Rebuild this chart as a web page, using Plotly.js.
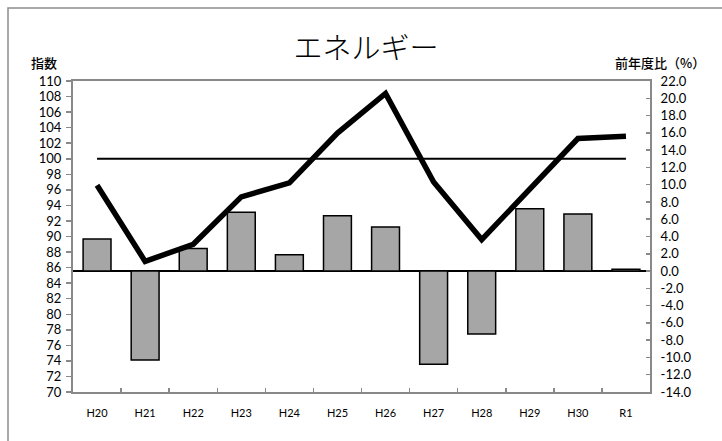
<!DOCTYPE html>
<html>
<head>
<meta charset="utf-8">
<script src="https://cdn.plot.ly/plotly-3.0.1.min.js"></script>
<style>body{margin:0;padding:0;background:#fff}#chart{width:722px;height:441px}</style>
</head>
<body>
<div id="chart"></div>
<script>
const categories = ["H20","H21","H22","H23","H24","H25","H26","H27","H28","H29","H30","R1"];
const indexValues = [96.6, 86.8, 89.0, 95.1, 96.9, 103.3, 108.4, 97.0, 89.6, 96.0, 102.6, 102.9];
const changeValues = [3.7, -10.3, 2.6, 6.8, 1.9, 6.4, 5.1, -10.8, -7.3, 7.2, 6.6, 0.2];
const baseValue = [100,100,100,100,100,100,100,100,100,100,100,100];
const leftTicks = [70,72,74,76,78,80,82,84,86,88,90,92,94,96,98,100,102,104,106,108,110];
const rightTicks = [-14,-12,-10,-8,-6,-4,-2,0,2,4,6,8,10,12,14,16,18,20,22];

const L = 73, R = 650, T = 81, B = 392, W = 722, H = 441;
const px = x => (x - L) / (R - L);
const py = y => (B - y) / (B - T);

const traces = [
  {
    type: "bar", x: categories, y: changeValues, yaxis: "y",
    marker: {color: "#a6a6a6", line: {color: "#000", width: 1.5}},
    hoverinfo: "x+y"
  },
  {
    type: "scatter", mode: "lines", x: categories, y: baseValue, yaxis: "y2",
    line: {color: "#000", width: 2}, hoverinfo: "skip"
  },
  {
    type: "scatter", mode: "lines", x: categories, y: indexValues, yaxis: "y2",
    line: {color: "#000", width: 5.5}
  }
];

const tickFont = {family: "Lato, 'Liberation Sans', sans-serif", size: 13, color: "#000"};
const layout = {
  width: W, height: H,
  margin: {l: L, r: W - R, t: T, b: H - B, pad: 0},
  paper_bgcolor: "#fff", plot_bgcolor: "#fff",
  showlegend: false,
  bargap: 0.42,
  title: {
    text: "エネルギー",
    font: {family: "'Noto Sans CJK JP', sans-serif", size: 29, color: "#000", weight: 300},
    xref: "container", yref: "container", x: 366 / W, y: 1 - 49 / H,
    xanchor: "center", yanchor: "middle"
  },
  xaxis: {
    type: "category",
    showline: true, linecolor: "#898989", linewidth: 2, mirror: true,
    ticks: "inside", tickson: "boundaries", ticklen: 4, tickcolor: "#898989", tickwidth: 1.5,
    tickfont: {family: "Lato, 'Liberation Sans', sans-serif", size: 11, color: "#000"},
    ticklabelstandoff: 10,
    showgrid: false, zeroline: false, fixedrange: true
  },
  yaxis: {
    side: "right",
    range: [-14, 22],
    tickvals: rightTicks, ticktext: rightTicks.map(v => v.toFixed(1)),
    ticks: "inside", ticklen: 4, tickcolor: "#898989", tickwidth: 1.5,
    tickfont: tickFont,
    showline: true, linecolor: "#898989", linewidth: 2,
    showgrid: false,
    zeroline: true, zerolinecolor: "#000", zerolinewidth: 2.5,
    ticklabelstandoff: 6,
    fixedrange: true
  },
  yaxis2: {
    overlaying: "y", side: "left",
    range: [70, 110],
    tickvals: leftTicks,
    ticks: "outside", ticklen: 5, tickcolor: "#898989", tickwidth: 1.5,
    tickfont: tickFont,
    showline: true, linecolor: "#898989", linewidth: 2,
    showgrid: false, zeroline: false,
    ticklabelstandoff: 2,
    fixedrange: true
  },
  annotations: [
    {text: "指数", xref: "paper", yref: "paper", x: px(44), y: py(63), xanchor: "center", yanchor: "middle",
     showarrow: false, font: {family: "'Noto Sans CJK JP', sans-serif", size: 13, color: "#000", weight: 500}},
    {text: "前年度比（%）", xref: "paper", yref: "paper", x: px(660), y: py(63), xanchor: "center", yanchor: "middle",
     showarrow: false, font: {family: "'Noto Sans CJK JP', sans-serif", size: 13, color: "#000", weight: 500}}
  ],
  shapes: [
    {type: "rect", xref: "paper", yref: "paper", x0: px(8), x1: px(740), y0: py(460), y1: py(8),
     line: {color: "#8c8c8c", width: 1.5}, fillcolor: "rgba(0,0,0,0)", layer: "below"}
  ]
};

Plotly.newPlot("chart", traces, layout, {displayModeBar: false, staticPlot: true});
</script>
</body>
</html>
